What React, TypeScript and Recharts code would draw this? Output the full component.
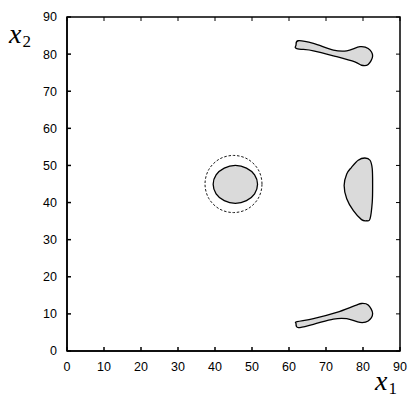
import { ScatterChart, Scatter, XAxis, YAxis } from "recharts";

type Pt = { x: number; y: number };

const ticks = [0, 10, 20, 30, 40, 50, 60, 70, 80, 90];
const lo = 0;
const hi = 90;

// blob outlines (x1, x2)
const topBlob: Pt[] = [
  { x: 61.9, y: 82.4 },
  { x: 62.5, y: 83.6 },
  { x: 66.6, y: 82.9 },
  { x: 72.0, y: 81.1 },
  { x: 75.6, y: 80.9 },
  { x: 79.2, y: 82.0 },
  { x: 81.4, y: 81.5 },
  { x: 82.6, y: 79.5 },
  { x: 81.4, y: 77.2 },
  { x: 79.6, y: 77.0 },
  { x: 77.8, y: 77.9 },
  { x: 72.9, y: 79.3 },
  { x: 66.6, y: 80.9 },
  { x: 62.1, y: 81.5 },
];

const bottomBlob: Pt[] = [
  { x: 61.9, y: 7.4 },
  { x: 62.5, y: 6.3 },
  { x: 66.6, y: 7.2 },
  { x: 72.0, y: 8.6 },
  { x: 75.6, y: 8.7 },
  { x: 79.2, y: 7.7 },
  { x: 81.4, y: 8.1 },
  { x: 82.6, y: 10.1 },
  { x: 81.4, y: 12.4 },
  { x: 79.6, y: 12.8 },
  { x: 77.8, y: 12.2 },
  { x: 72.9, y: 10.4 },
  { x: 66.6, y: 8.7 },
  { x: 62.2, y: 7.9 },
];

const rightBlob: Pt[] = [
  { x: 80.5, y: 52.0 },
  { x: 81.9, y: 51.4 },
  { x: 82.5, y: 49.1 },
  { x: 82.6, y: 44.6 },
  { x: 82.5, y: 40.1 },
  { x: 81.9, y: 35.6 },
  { x: 81.0, y: 35.1 },
  { x: 79.6, y: 35.4 },
  { x: 77.4, y: 37.8 },
  { x: 75.6, y: 41.0 },
  { x: 74.9, y: 44.6 },
  { x: 75.6, y: 47.7 },
  { x: 76.9, y: 49.5 },
  { x: 78.7, y: 51.4 },
];

const centerBlob: Pt[] = [
  { x: 51.5, y: 44.9 },
  { x: 50.7, y: 47.45 },
  { x: 48.5, y: 49.3 },
  { x: 45.5, y: 50.0 },
  { x: 42.5, y: 49.3 },
  { x: 40.3, y: 47.45 },
  { x: 39.5, y: 44.9 },
  { x: 40.3, y: 42.35 },
  { x: 42.5, y: 40.5 },
  { x: 45.5, y: 39.8 },
  { x: 48.5, y: 40.5 },
  { x: 50.7, y: 42.35 },
];

const dashedRing: Pt[] = [
  { x: 52.7, y: 45.0 },
  { x: 51.7, y: 48.85 },
  { x: 48.85, y: 51.7 },
  { x: 45.0, y: 52.7 },
  { x: 41.15, y: 51.7 },
  { x: 38.3, y: 48.85 },
  { x: 37.3, y: 45.0 },
  { x: 38.3, y: 41.15 },
  { x: 41.15, y: 38.3 },
  { x: 45.0, y: 37.3 },
  { x: 48.85, y: 38.3 },
  { x: 51.7, y: 41.15 },
];

// plot frame + mirrored ticks on the top and right edges
const frame: Pt[] = [
  { x: lo, y: lo },
  { x: hi, y: lo },
  { x: hi, y: hi },
  { x: lo, y: hi },
];
const topTicks: Pt[] = ticks.map((t) => ({ x: t, y: hi }));
const rightTicks: Pt[] = ticks.map((t) => ({ x: hi, y: t }));

// closed catmull-rom through the scaled points
function closedPath(pts: Pt[]) {
  const n = pts.length;
  if (!n) return "";
  let d = `M${pts[0].x},${pts[0].y}`;
  for (let i = 0; i < n; i++) {
    const p0 = pts[(i - 1 + n) % n];
    const p1 = pts[i];
    const p2 = pts[(i + 1) % n];
    const p3 = pts[(i + 2) % n];
    const c1x = p1.x + (p2.x - p0.x) / 6;
    const c1y = p1.y + (p2.y - p0.y) / 6;
    const c2x = p2.x - (p3.x - p1.x) / 6;
    const c2y = p2.y - (p3.y - p1.y) / 6;
    d += ` C${c1x},${c1y} ${c2x},${c2y} ${p2.x},${p2.y}`;
  }
  return d + " Z";
}

const filledLine = (props: any) => (
  <path d={closedPath(props.points)} fill="#dadada" stroke="#000" strokeWidth={1.3} />
);

const dashedLine = (props: any) => (
  <path d={closedPath(props.points)} fill="none" stroke="#000" strokeWidth={0.9} strokeDasharray="2.5 1.8" />
);

const frameLine = (props: any) => (
  <path
    d={"M" + props.points.map((p: Pt) => `${p.x},${p.y}`).join(" L") + " Z"}
    fill="none"
    stroke="#000"
    strokeWidth={1.5}
  />
);

const noDot = () => <g />;
const downTick = (p: any) => <line x1={p.cx} y1={p.cy} x2={p.cx} y2={p.cy + 4} stroke="#000" />;
const leftTick = (p: any) => <line x1={p.cx} y1={p.cy} x2={p.cx - 4} y2={p.cy} stroke="#000" />;

const tickFont = { fontSize: 12.5, fill: "#000", fontFamily: "Liberation Sans, Arial, sans-serif" };

const X1Label = ({ viewBox }: any) => (
  <text x={viewBox.x + viewBox.width - 25} y={viewBox.y + 39} fontFamily="Liberation Serif, serif" fill="#000">
    <tspan fontStyle="italic" fontSize={28}>x</tspan>
    <tspan fontSize={17} dx={1} dy={4}>1</tspan>
  </text>
);

const X2Label = ({ viewBox }: any) => (
  <text x={viewBox.x + 9} y={viewBox.y + 26} fontFamily="Liberation Serif, serif" fill="#000">
    <tspan fontStyle="italic" fontSize={28}>x</tspan>
    <tspan fontSize={17} dx={1} dy={4}>2</tspan>
  </text>
);

export default function App() {
  return (
    <div style={{ position: "absolute", left: 0, top: 0, background: "#fff" }}>
      <ScatterChart width={413} height={398} margin={{ top: 17, right: 13, bottom: 0, left: 0 }}>
        <XAxis
          type="number"
          dataKey="x"
          domain={[lo, hi]}
          ticks={ticks}
          height={47}
          stroke="#000"
          strokeWidth={1.5}
          tickSize={-4}
          tickMargin={15}
          tick={tickFont}
          label={{ content: X1Label }}
        />
        <YAxis
          type="number"
          dataKey="y"
          domain={[lo, hi]}
          ticks={ticks}
          width={67}
          stroke="#000"
          strokeWidth={1.5}
          tickSize={-4}
          tickMargin={14}
          tick={tickFont}
          label={{ content: X2Label }}
        />
        <Scatter data={frame} line={frameLine} shape={noDot} isAnimationActive={false} />
        <Scatter data={topTicks} shape={downTick} isAnimationActive={false} />
        <Scatter data={rightTicks} shape={leftTick} isAnimationActive={false} />
        <Scatter data={dashedRing} line={dashedLine} shape={noDot} isAnimationActive={false} />
        <Scatter data={centerBlob} line={filledLine} shape={noDot} isAnimationActive={false} />
        <Scatter data={rightBlob} line={filledLine} shape={noDot} isAnimationActive={false} />
        <Scatter data={topBlob} line={filledLine} shape={noDot} isAnimationActive={false} />
        <Scatter data={bottomBlob} line={filledLine} shape={noDot} isAnimationActive={false} />
      </ScatterChart>
    </div>
  );
}
